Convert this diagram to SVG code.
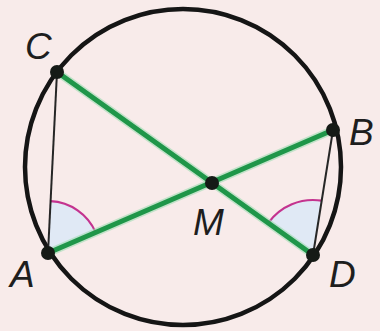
<svg xmlns="http://www.w3.org/2000/svg" width="380" height="331" viewBox="0 0 380 331">
<style>
.lbl{font-family:"Liberation Sans",Arial,sans-serif;font-style:italic;font-size:37px;fill:#1e1e1e}
.dot{fill:#151a16}
.chord{stroke:#262626;stroke-width:2;fill:none}
.green{stroke:#1f9649;stroke-width:5;fill:none;stroke-linecap:round}
.halo{stroke:#9fdcb3;stroke-width:8;fill:none;opacity:0.6}
.sector{fill:#e0e9f5;stroke:none}
.arc{stroke:#c4338f;stroke-width:2.2;fill:none}
</style>
<rect width="380" height="331" fill="#f8ebea"/>
<circle id="circle" cx="183" cy="167" r="158" fill="none" stroke="#151515" stroke-width="4.5"/>
<g id="angles">
<path class="sector" d="M48 253 L50.5 201.1 A52 52 0 0 1 95.7 232.4 Z"/>
<path class="sector" d="M313 255 L268.3 223 A55 55 0 0 1 321.7 200.7 Z"/>
<path class="arc" d="M50.5 201.1 A52 52 0 0 1 95.7 232.4"/>
<path class="arc" d="M268.3 223 A55 55 0 0 1 321.7 200.7"/>
</g>
<g id="connectors">
<line class="chord" x1="57" y1="72" x2="48" y2="253"/>
<line class="chord" x1="333" y1="130" x2="313" y2="255"/>
<line class="halo" x1="57" y1="72" x2="313" y2="255"/>
<line class="halo" x1="48" y1="253" x2="333" y2="130"/>
<line class="green" x1="57" y1="72" x2="313" y2="255"/>
<line class="green" x1="48" y1="253" x2="333" y2="130"/>
</g>
<g id="C"><circle class="dot" cx="57" cy="72" r="7"/><text class="lbl" x="25" y="59">C</text></g>
<g id="A"><circle class="dot" cx="48" cy="253" r="7"/><text class="lbl" x="10" y="287">A</text></g>
<g id="B"><circle class="dot" cx="333" cy="130" r="7"/><text class="lbl" x="349" y="145">B</text></g>
<g id="D"><circle class="dot" cx="313" cy="255" r="7"/><text class="lbl" x="329" y="287">D</text></g>
<g id="M"><circle class="dot" cx="212" cy="183" r="7"/><text class="lbl" x="193" y="235">M</text></g>
</svg>
